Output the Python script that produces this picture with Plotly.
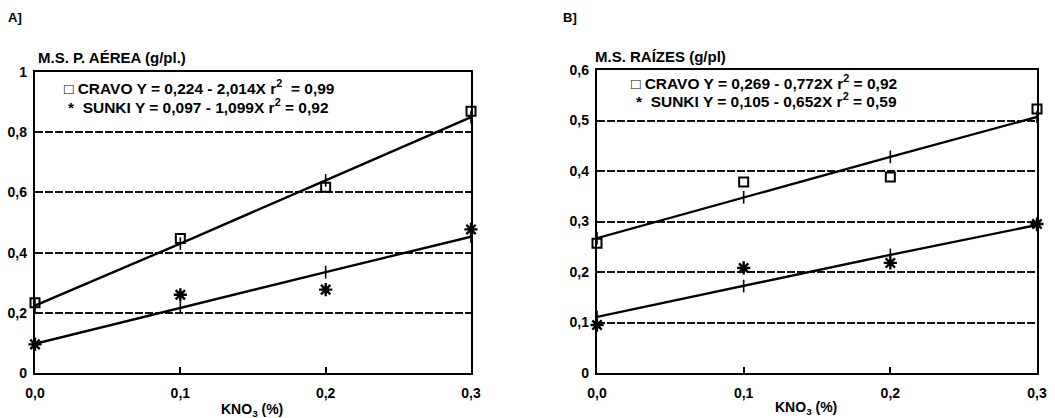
import plotly.graph_objects as go

W, H = 1055, 418

# ---- data ----
kno3 = [0.0, 0.1, 0.2, 0.3]
x_ticks = [0.0, 0.1, 0.2, 0.3]
x_ticktext = ["<b>0,0</b>", "<b>0,1</b>", "<b>0,2</b>", "<b>0,3</b>"]

# Panel A: M.S. P. AÉREA (g/pl.)
a_cravo_obs = [0.233, 0.447, 0.617, 0.87]
a_cravo_fit = [0.224, 0.43, 0.64, 0.85]
a_sunki_obs = [0.095, 0.26, 0.277, 0.477]
a_sunki_fit = [0.097, 0.217, 0.335, 0.453]
a_yticks = [0, 0.2, 0.4, 0.6, 0.8, 1.0]
a_yticktext = ["<b>0</b>", "<b>0,2</b>", "<b>0,4</b>", "<b>0,6</b>", "<b>0,8</b>", "<b>1</b>"]

# Panel B: M.S. RAÍZES (g/pl)
b_cravo_obs = [0.257, 0.378, 0.388, 0.523]
b_cravo_fit = [0.267, 0.348, 0.428, 0.507]
b_sunki_obs = [0.095, 0.208, 0.218, 0.295]
b_sunki_fit = [0.111, 0.172, 0.234, 0.293]
b_yticks = [0, 0.1, 0.2, 0.3, 0.4, 0.5, 0.6]
b_yticktext = ["<b>0</b>", "<b>0,1</b>", "<b>0,2</b>", "<b>0,3</b>", "<b>0,4</b>", "<b>0,5</b>", "<b>0,6</b>"]

FONT = "Liberation Sans, Arial, sans-serif"

def px(x):
    return x / W

def py(y):
    return 1 - y / H

fig = go.Figure()

def add_panel(xa, ya, cravo_obs, cravo_fit, sunki_obs, sunki_fit):
    for fit in (cravo_fit, sunki_fit):
        fig.add_trace(go.Scatter(
            x=kno3, y=fit, mode="lines+markers", xaxis=xa, yaxis=ya,
            line=dict(color="black", width=2.4),
            marker=dict(symbol="line-ns", size=9, line=dict(color="black", width=1.6)),
            showlegend=False, cliponaxis=False, hoverinfo="skip"))
    fig.add_trace(go.Scatter(
        x=kno3, y=cravo_obs, mode="markers", xaxis=xa, yaxis=ya,
        marker=dict(symbol="square-open", size=9, color="black", line=dict(color="black", width=2)),
        showlegend=False, cliponaxis=False))
    fig.add_trace(go.Scatter(
        x=kno3, y=sunki_obs, mode="markers", xaxis=xa, yaxis=ya,
        marker=dict(symbol="asterisk-open", size=11, color="black", line=dict(color="black", width=2.4)),
        showlegend=False, cliponaxis=False))

add_panel("x", "y", a_cravo_obs, a_cravo_fit, a_sunki_obs, a_sunki_fit)
add_panel("x2", "y2", b_cravo_obs, b_cravo_fit, b_sunki_obs, b_sunki_fit)

tickfont = dict(family=FONT, size=14, color="black")

xcommon = dict(range=[0, 0.3], tickvals=x_ticks, ticktext=x_ticktext, tickfont=tickfont,
               showline=True, linecolor="black", linewidth=2.4, mirror=True,
               ticks="inside", ticklen=6, tickwidth=1.5, tickcolor="black",
               showgrid=False, zeroline=False, ticklabelstandoff=6, fixedrange=True,
               automargin=False)
ycommon = dict(tickfont=tickfont, showline=True, linecolor="black", linewidth=2.4, mirror=True,
               ticks="", showgrid=True, gridcolor="#111", gridwidth=1.5, griddash="8px,2px",
               zeroline=False, ticklabelstandoff=3, fixedrange=True, automargin=False)

fig.update_layout(
    width=W, height=H,
    margin=dict(l=0, r=0, t=0, b=0),
    paper_bgcolor="white", plot_bgcolor="white",
    xaxis=dict(domain=[px(35), px(471)], anchor="y", **xcommon),
    yaxis=dict(domain=[py(373), py(72)], anchor="x", range=[0, 1.0],
               tickvals=a_yticks, ticktext=a_yticktext, **ycommon),
    xaxis2=dict(domain=[px(597), px(1037)], anchor="y2", **xcommon),
    yaxis2=dict(domain=[py(373), py(70)], anchor="x2", range=[0, 0.6],
                tickvals=b_yticks, ticktext=b_yticktext, **ycommon),
)

def ann(text, x, y, size=15, xanchor="left"):
    fig.add_annotation(text="<b>" + text + "</b>", x=px(x), y=py(y), xref="paper", yref="paper",
                       xanchor=xanchor, yanchor="middle", showarrow=False,
                       font=dict(family=FONT, size=size, color="black"))

ann("A]", 6, 17, 13)
ann("B]", 561, 17, 13)
ann("M.S. P. AÉREA (g/pl.)", 36, 58)
ann("M.S. RAÍZES (g/pl)", 593, 56)
ann("KNO<sub>3</sub> (%)", 252, 410, 14, "center")
ann("KNO<sub>3</sub> (%)", 806, 408, 14, "center")

ann("□ CRAVO Y = 0,224 - 2,014X r<sup>2</sup>  = 0,99", 62, 87, 15.5)
ann("*  SUNKI Y = 0,097 - 1,099X r<sup>2</sup> = 0,92", 66, 106, 15.5)
ann("□ CRAVO Y = 0,269 - 0,772X r<sup>2</sup> = 0,92", 629, 82, 15.5)
ann("*  SUNKI Y = 0,105 - 0,652X r<sup>2</sup> = 0,59", 634, 100, 15.5)

fig.write_html("out.html", config={"displayModeBar": False},
               post_script="document.body.style.margin='0';")
